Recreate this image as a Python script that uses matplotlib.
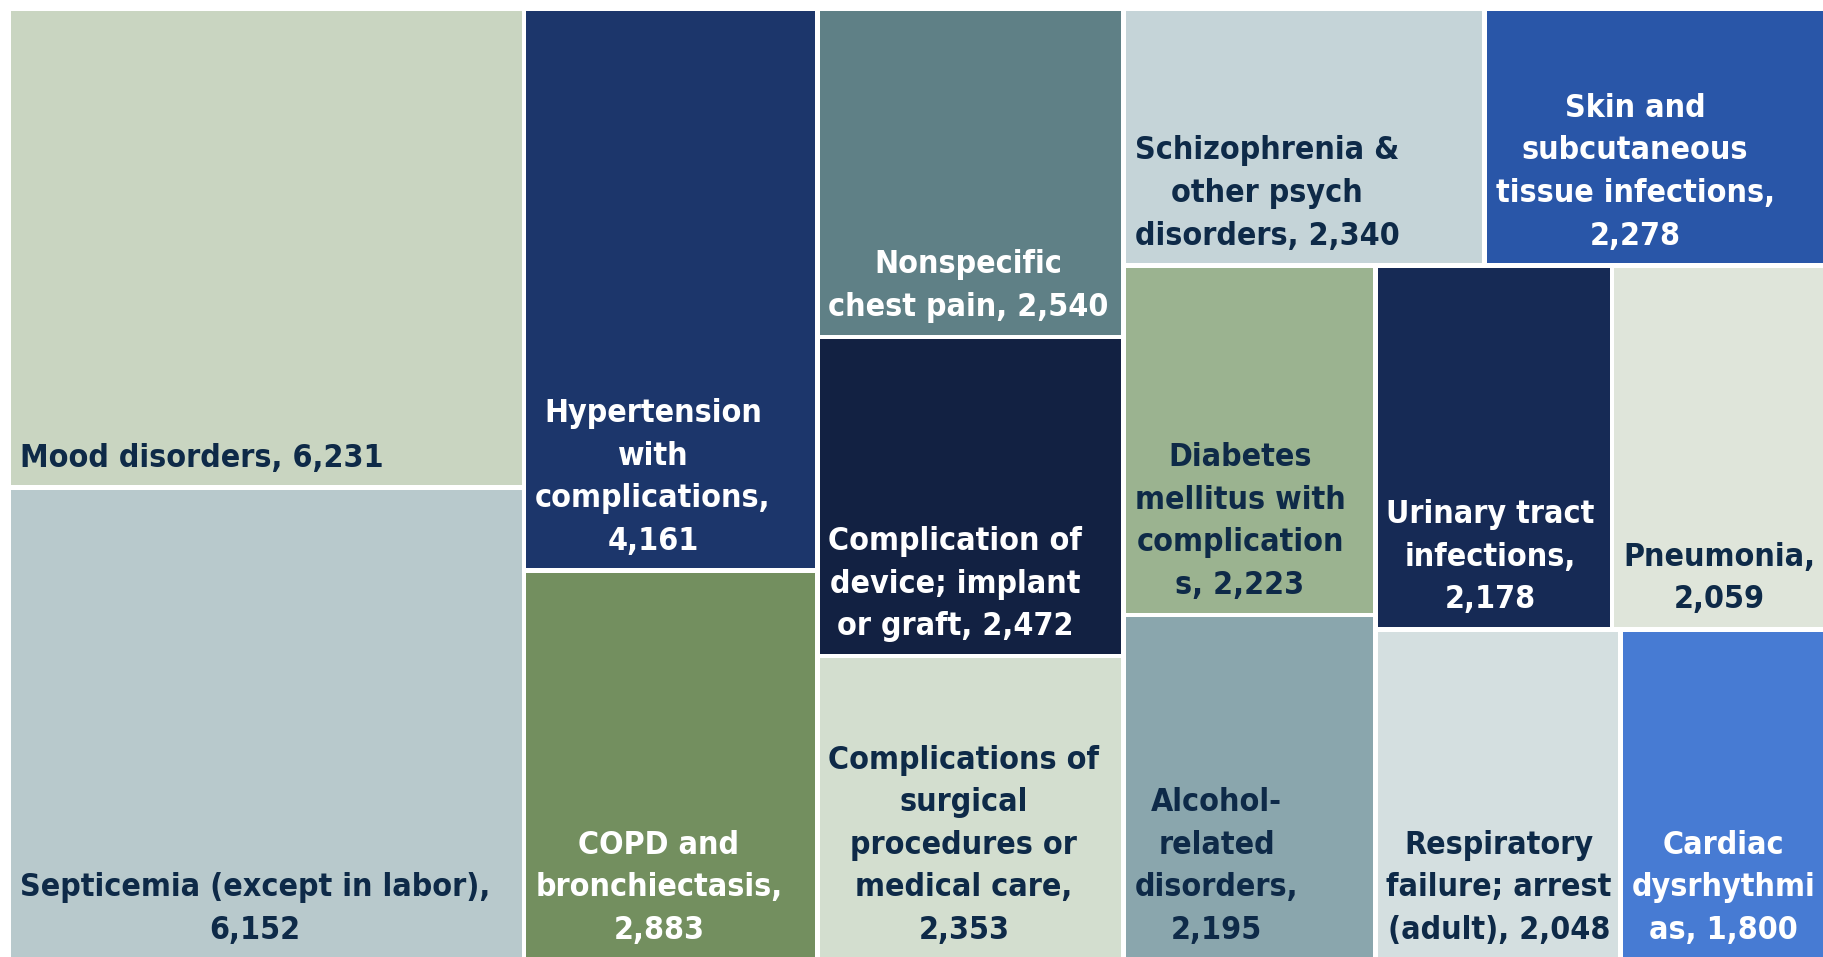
import matplotlib.pyplot as plt
from matplotlib.patches import Rectangle

# Top 15 reasons, counts as shown in the treemap
categories = [
    "Mood disorders", "Septicemia (except in labor)",
    "Hypertension with complications", "COPD and bronchiectasis",
    "Nonspecific chest pain", "Complication of device; implant or graft",
    "Complications of surgical procedures or medical care",
    "Schizophrenia & other psych disorders",
    "Skin and subcutaneous tissue infections",
    "Diabetes mellitus with complications", "Alcohol-related disorders",
    "Urinary tract infections", "Pneumonia",
    "Respiratory failure; arrest (adult)", "Cardiac dysrhythmias",
]
counts = [6231, 6152, 4161, 2883, 2540, 2472, 2353, 2340, 2278,
          2223, 2195, 2178, 2059, 2048, 1800]

# label text with the same line breaks as the original
labels = [
    "Mood disorders, {v}",
    "Septicemia (except in labor),\n{v}",
    "Hypertension\nwith\ncomplications,\n{v}",
    "COPD and\nbronchiectasis,\n{v}",
    "Nonspecific\nchest pain, {v}",
    "Complication of\ndevice; implant\nor graft, {v}",
    "Complications of\nsurgical\nprocedures or\nmedical care,\n{v}",
    "Schizophrenia &\nother psych\ndisorders, {v}",
    "Skin and\nsubcutaneous\ntissue infections,\n{v}",
    "Diabetes\nmellitus with\ncomplication\ns, {v}",
    "Alcohol-\nrelated\ndisorders,\n{v}",
    "Urinary tract\ninfections,\n{v}",
    "Pneumonia,\n{v}",
    "Respiratory\nfailure; arrest\n(adult), {v}",
    "Cardiac\ndysrhythmi\nas, {v}",
]

fill_colors = ["#C9D5C1", "#B8C9CC", "#1C366B", "#738F5F", "#5F8086",
               "#122142", "#D3DECF", "#C5D4D8", "#2956A8", "#9BB390",
               "#8AA6AD", "#162A55", "#DFE5DA", "#D4DFE0", "#477BD3"]
dark = "#0E2A48"
text_colors = [dark, dark, "white", "white", "white", "white", dark, dark,
               "white", dark, dark, "white", dark, dark, "white"]

# nesting of the treemap: 'h' splits left to right, 'v' top to bottom
layout = ("h", [
    ("v", [0, 1]),
    ("v", [2, 3]),
    ("v", [4, 5, 6]),
    ("v", [("h", [7, 8]),
           ("h", [("v", [9, 10]),
                  ("v", [("h", [11, 12]), ("h", [13, 14])])])]),
])


def total(node):
    if isinstance(node, int):
        return counts[node]
    return sum(total(k) for k in node[1])


def place(node, x, y, w, h, out):
    "split the rectangle in proportion to the counts"
    if isinstance(node, int):
        out[node] = (x, y, w, h)
        return
    d, kids = node
    s = total(node)
    for k in kids:
        f = total(k) / s
        if d == "h":
            place(k, x, y, w * f, h, out)
            x += w * f
        else:
            place(k, x, y, w, h * f, out)
            y += h * f


W, H = 1824, 957
fig = plt.figure(figsize=(W / 100, H / 100), dpi=100)
ax = fig.add_axes([0, 0, 1, 1])
ax.set_xlim(0, W)
ax.set_ylim(H, 0)
ax.axis("off")

rects = {}
# the map runs a little past the right and bottom edge of the picture
place(layout, 9, 9, 1827, 951, rects)

gap = 2.3
for i in range(len(counts)):
    x, y, w, h = rects[i]
    ax.add_patch(Rectangle((x + gap, y + gap), w - 2 * gap, h - 2 * gap,
                           facecolor=fill_colors[i], edgecolor="none"))
    txt = labels[i].format(v=f"{counts[i]:,}")
    ax.text(x + 11, y + h - 14, txt, ha="left", va="bottom",
            multialignment="center", color=text_colors[i],
            fontsize=23, fontweight="bold", fontstretch="condensed",
            linespacing=1.48, family="DejaVu Sans")

fig.savefig("out.png", dpi=100)
